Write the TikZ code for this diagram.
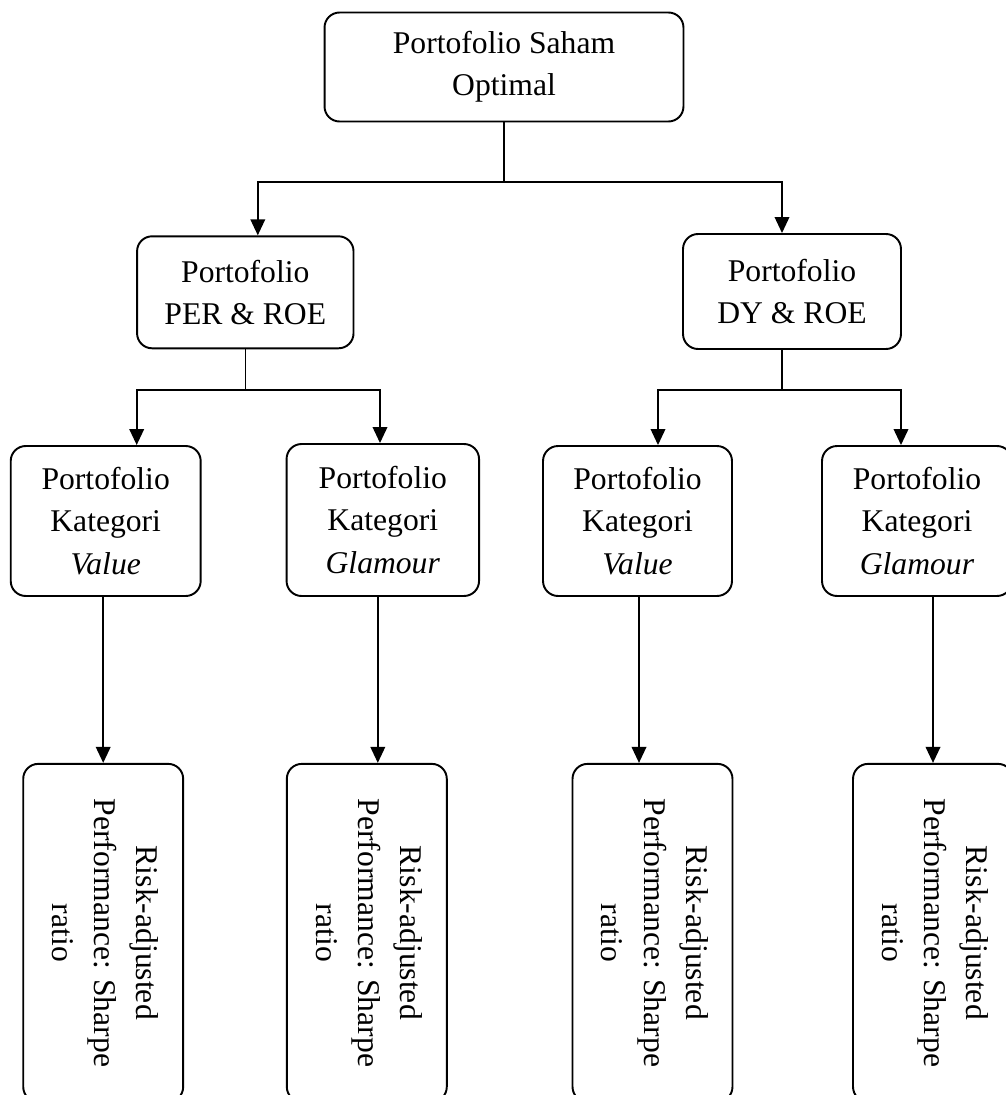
\documentclass[tikz,border=0pt]{standalone}
\usepackage{fontspec}
\setmainfont{Liberation Serif}
\usepackage{tikz}
\usetikzlibrary{positioning}
\usetikzlibrary{arrows.meta}
\tikzstyle{line} = [draw, line width=1.15pt, -{Triangle[length=0.32cm, width=0.29cm]}]
\tikzstyle{stem} = [draw, line width=0.8pt]

\begin{document}
\begin{tikzpicture}[x=0.02cm, y=-0.02cm,
				internal/.style={draw, rectangle, rounded corners=0.3cm, line width=1.1pt, inner sep=0pt, font=\fontsize{18}{24}\selectfont},
				every text node part/.style={align=center}]
				\useasboundingbox (0,0) rectangle (1005,1095);
				\node[internal, minimum width=7.18cm, minimum height=2.18cm](top) at (504, 67) {Portofolio Saham\\Optimal};
				
				\node[internal, minimum width=4.33cm, minimum height=2.24cm](per) at (245.3, 292.3) {Portofolio\\PER \& ROE};
				\node[internal, minimum width=4.36cm, minimum height=2.3cm](dy) at (792, 291.5) {Portofolio\\DY \& ROE};
				
				\node[internal, minimum width=3.8cm, minimum height=3cm](v1) at (105.7, 521) {Portofolio\\Kategori\\\textit{Value}};
				\node[internal, minimum width=3.85cm, minimum height=3.04cm](g1) at (382.8, 520) {Portofolio\\Kategori\\\textit{Glamour}};
				\node[internal, minimum width=3.78cm, minimum height=3cm](v2) at (637.5, 521) {Portofolio\\Kategori\\\textit{Value}};
				\node[internal, minimum width=3.8cm, minimum height=3cm](g2) at (917, 521) {Portofolio\\Kategori\\\textit{Glamour}};
				
				\node[internal, minimum width=3.2cm, minimum height=6.76cm, below=3.32cm of v1, xshift=-0.05cm](r1) {\rotatebox{-90}{\begin{tabular}{@{}c@{}}Risk-adjusted\\Performance: Sharpe\\ratio\end{tabular}}};
				\node[internal, minimum width=3.2cm, minimum height=6.76cm, below=3.32cm of g1, xshift=-0.32cm](r2) {\rotatebox{-90}{\begin{tabular}{@{}c@{}}Risk-adjusted\\Performance: Sharpe\\ratio\end{tabular}}};
				\node[internal, minimum width=3.2cm, minimum height=6.76cm, below=3.32cm of v2, xshift=0.3cm](r3) {\rotatebox{-90}{\begin{tabular}{@{}c@{}}Risk-adjusted\\Performance: Sharpe\\ratio\end{tabular}}};
				\node[internal, minimum width=3.2cm, minimum height=6.76cm, below=3.32cm of g2, xshift=0.32cm](r4) {\rotatebox{-90}{\begin{tabular}{@{}c@{}}Risk-adjusted\\Performance: Sharpe\\ratio\end{tabular}}};
				
				\draw [stem] (top.south) -- ++(0,60) coordinate (j0);
				\draw [line] (j0) -| ([xshift=0.25cm]per.north);
				\draw [line] (j0) -| ([xshift=-0.2cm]dy.north);
				
				\draw [stem] (per.south) -- ++(0,41) coordinate (j1);
				\draw [line] (j1) -| ([xshift=0.62cm]v1.north);
				\draw [line] (j1) -| ([xshift=-0.056cm]g1.north);
				
				\draw [stem] ([xshift=-0.2cm]dy.south) -- ++(0,40) coordinate (j2);
				\draw [line] (j2) -| ([xshift=0.41cm]v2.north);
				\draw [line] (j2) -| ([xshift=-0.32cm]g2.north);
				
				\draw [line] (v1.south -| r1.north) -- (r1.north);
				\draw [line] ([xshift=-0.1cm]g1.south) -- ([xshift=-0.1cm]g1.south |- r2.north);
				\draw [line] ([xshift=0.03cm]v2.south) -- ([xshift=0.03cm]v2.south |- r3.north);
				\draw [line] (g2.south -| r4.north) -- (r4.north);
			\end{tikzpicture}
\end{document}
